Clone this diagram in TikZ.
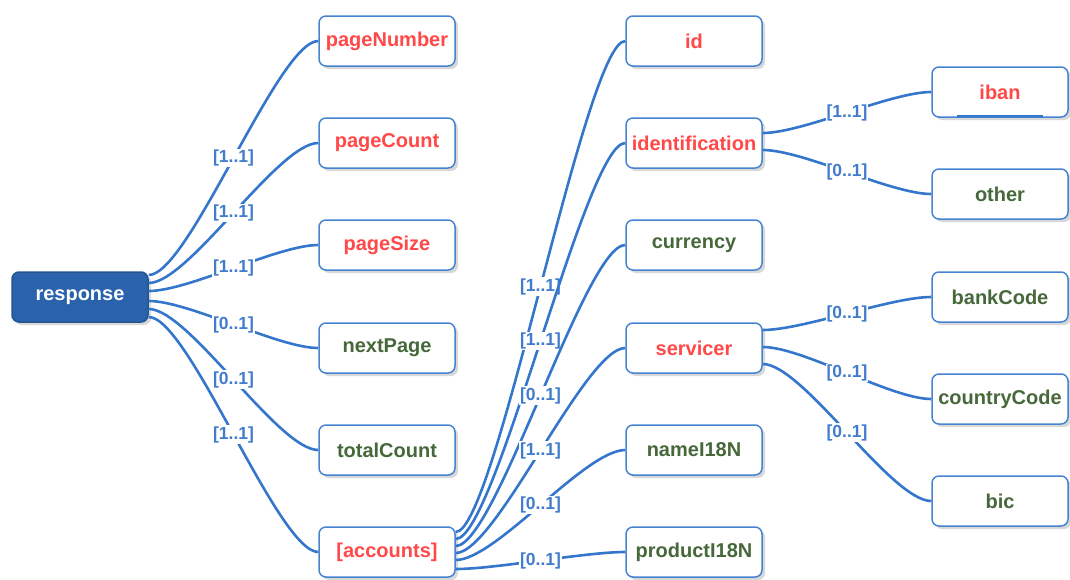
\documentclass[tikz,border=0pt]{standalone}
\usepackage{fontspec}
\setmainfont{Liberation Sans}
\usepackage{xcolor}
\definecolor{linkblue}{RGB}{52,118,204}
\definecolor{cardblue}{RGB}{66,124,204}
\definecolor{boxblue}{RGB}{70,132,210}
\definecolor{respblue}{RGB}{42,99,172}
\definecolor{reqred}{RGB}{255,72,72}
\definecolor{optgreen}{RGB}{70,104,58}
\usepackage{tikz}
\usetikzlibrary{shadows}

\begin{document}
\begin{tikzpicture}[
    x=1pt, y=-1pt,
    elem/.style={rectangle, draw=boxblue, line width=1.5pt, rounded corners=7pt,
                 fill=white, minimum width=136pt, minimum height=50pt,
                 font=\fontsize{20}{22}\selectfont\bfseries,
                 drop shadow={shadow xshift=3pt, shadow yshift=-3pt, fill=black!30}},
    req/.style={elem, text=reqred},
    opt/.style={elem, text=optgreen},
    root/.style={elem, fill=respblue, draw=respblue!85!black, text=white},
    link/.style={draw=linkblue, line width=2.6pt},
    card/.style={fill=white, inner sep=1pt, text=cardblue,
                 font=\fontsize{17.5}{19}\selectfont\bfseries}
]
\useasboundingbox (0,0) rectangle (1070,579);

% root
\node[root] (response) at (80,297) {response};

% first level
\node[req] (pageNumber) at (387,41)  {pageNumber};
\node[req] (pageCount)  at (387,143) {pageCount};
\node[req] (pageSize)   at (387,245) {pageSize};
\node[opt] (nextPage)   at (387,348) {nextPage};
\node[opt] (totalCount) at (387,450) {totalCount};
\node[req] (accounts)   at (387,552) {[accounts]};

% account fields
\node[req] (id)             at (694,41)  {id};
\node[req] (identification) at (694,143) {identification};
\node[opt] (currency)       at (694,245) {currency};
\node[req] (servicer)       at (694,348) {servicer};
\node[opt] (nameI18N)       at (694,450) {nameI18N};
\node[opt] (productI18N)    at (694,552) {productI18N};

% third level
\node[req] (iban)        at (1000,92)  {iban};
\node[opt] (other)       at (1000,194) {other};
\node[opt] (bankCode)    at (1000,297) {bankCode};
\node[opt] (countryCode) at (1000,399) {countryCode};
\node[opt] (bic)         at (1000,501) {bic};

% key mark
\draw[linkblue, line width=2.5pt] ([xshift=-43pt,yshift=2pt]iban.south) -- ([xshift=43pt,yshift=2pt]iban.south);

% connectors
\foreach \kid/\dy/\card in {pageNumber/22/{[1..1]}, pageCount/14/{[1..1]},
    pageSize/6/{[1..1]}, nextPage/-4/{[0..1]}, totalCount/-12/{[0..1]},
    accounts/-20/{[1..1]}}
  \draw[link] ([yshift=\dy pt]response.east) .. controls +(40,0) and +(-40,0) .. (\kid.west)
      node[card, pos=0.5] {\card};

\foreach \kid/\dy/\card in {id/20/{[1..1]}, identification/13/{[1..1]},
    currency/6/{[0..1]}, servicer/-1/{[1..1]}, nameI18N/-8/{[0..1]},
    productI18N/-17/{[0..1]}}
  \draw[link] ([yshift=\dy pt]accounts.east) .. controls +(40,0) and +(-40,0) .. (\kid.west)
      node[card, pos=0.5] {\card};

\foreach \kid/\dy/\card in {iban/10/{[1..1]}, other/-7/{[0..1]}}
  \draw[link] ([yshift=\dy pt]identification.east) .. controls +(40,0) and +(-40,0) .. (\kid.west)
      node[card, pos=0.5] {\card};

\foreach \kid/\dy/\card in {bankCode/18/{[0..1]}, countryCode/1/{[0..1]},
    bic/-16/{[0..1]}}
  \draw[link] ([yshift=\dy pt]servicer.east) .. controls +(40,0) and +(-40,0) .. (\kid.west)
      node[card, pos=0.5] {\card};
\end{tikzpicture}
\end{document}
